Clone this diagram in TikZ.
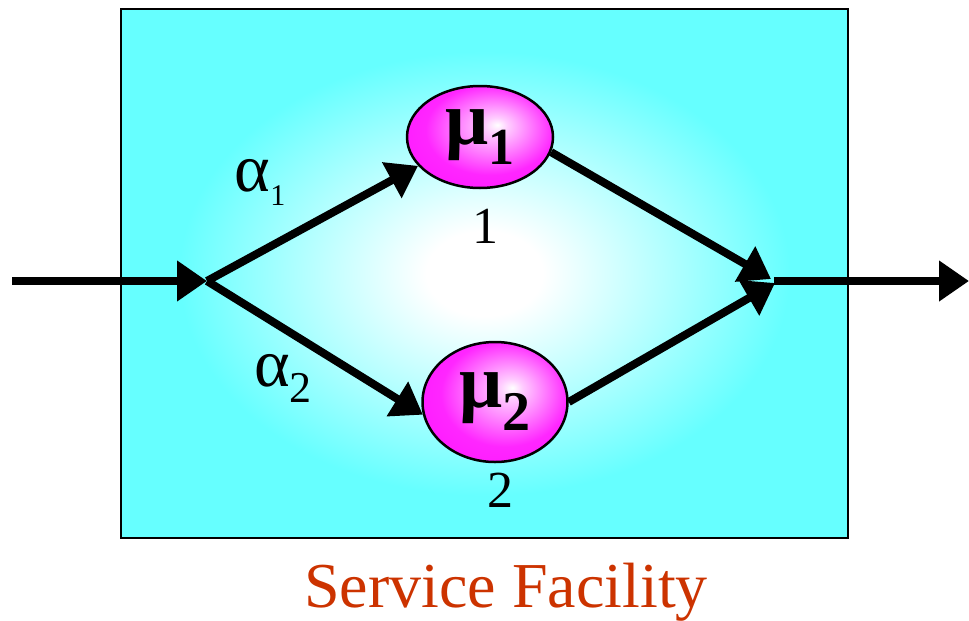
\documentclass[tikz,border=0pt]{standalone}
\usepackage{fontspec}
\setmainfont{Liberation Serif}
\usetikzlibrary{arrows.meta}
\usetikzlibrary{shapes.geometric}
\definecolor{boxcyan}{RGB}{102,255,255}
\definecolor{ballpink}{RGB}{255,0,255}
\colorlet{ballmid}{white!80!ballpink}
\colorlet{ballrim}{ballpink!85!white}
\definecolor{labelred}{RGB}{204,51,0}
\pgfdeclareradialshading{facility}{\pgfpointorigin}{color(0bp)=(white);color(4bp)=(white);color(21bp)=(boxcyan);color(50bp)=(boxcyan)}
\pgfdeclareradialshading{serverball}{\pgfpoint{6bp}{6bp}}{color(0bp)=(white);color(4bp)=(ballmid);color(22bp)=(ballrim);color(50bp)=(ballpink)}
\newcommand{\fs}[1]{\fontsize{#1pt}{#1pt}\selectfont}

\begin{document}
\begin{tikzpicture}[x=1pt,y=-1pt,
  flow/.style={line width=8pt,-{Triangle[length=30pt,width=39pt]}},
  server/.style={ellipse,draw,line width=2.5pt,shading=serverball,inner sep=0pt}]
\useasboundingbox (0,0) rectangle (969,621);
\shadedraw[shading=facility,line width=2pt] (121,9) rectangle (848,538);

\node[server,minimum width=146pt,minimum height=102pt] (n1) at (480,137)
  {\bfseries\fs{76}μ\raisebox{-20pt}{\fs{52}1}};
\node[server,minimum width=145pt,minimum height=120pt] (n2) at (495,402)
  {\bfseries\fs{76}μ\raisebox{-23pt}{\fs{56}2}};
\node at (485,226) {\fs{52}1};
\node at (500,490) {\fs{52}2};
\node at (260,182) {\fs{68}α\raisebox{-14pt}{\fs{30}1}};
\node at (283,378) {\fs{68}α\raisebox{-16pt}{\fs{44}2}};
\node[anchor=base,text=labelred] at (506,607) {\fs{64}Service Facility};

\coordinate (in) at (12,281);
\coordinate (split) at (207,281);
\coordinate (merge) at (774,281);
\coordinate (out) at (969,281);
\draw[flow] (in) -- (split);
\draw[flow] (split) -- (n1.205);
\draw[flow] (split) -- (n2.190);
\draw[flow] (n1.-12) -- ([shift={(-3,-2)}]merge);
\draw[flow] (n2.east) -- ([shift={(1,2)}]merge);
\draw[flow] (merge) -- (out);
\end{tikzpicture}
\end{document}
